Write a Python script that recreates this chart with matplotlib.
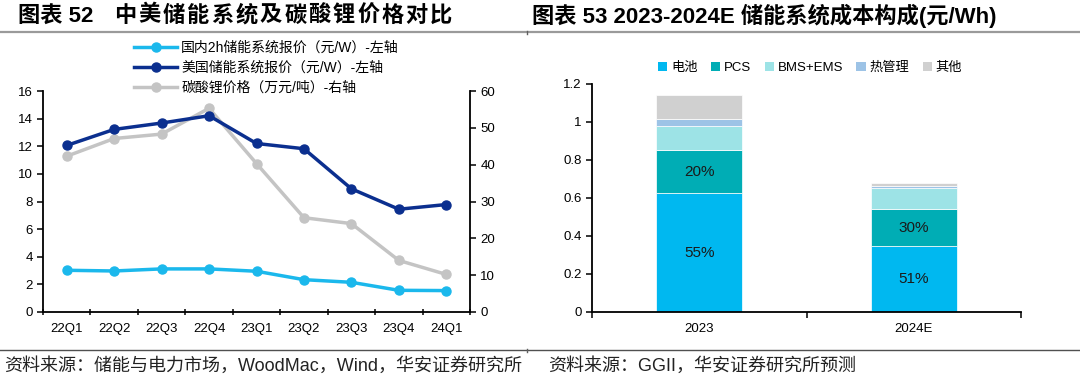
import matplotlib
matplotlib.use("Agg")
import matplotlib.pyplot as plt
from matplotlib.lines import Line2D
from matplotlib.patches import Patch
from matplotlib.ticker import FuncFormatter, FixedLocator

plt.rcParams['font.family'] = ['Liberation Sans', 'Noto Sans CJK SC']
plt.rcParams['axes.unicode_minus'] = False

# ---- data: chart 52 ----
quarters = ['22Q1', '22Q2', '22Q3', '22Q4', '23Q1', '23Q2', '23Q3', '23Q4', '24Q1']
cn_price = [3.02, 2.97, 3.12, 3.12, 2.95, 2.34, 2.15, 1.57, 1.55]
us_price = [12.06, 13.22, 13.68, 14.21, 12.2, 11.82, 8.92, 7.44, 7.78]
li2co3_price = [42.3, 47.1, 48.3, 55.3, 40.3, 25.6, 24.0, 14.0, 10.2]
line_labels = ['国内2h储能系统报价（元/W）-左轴', '美国储能系统报价（元/W）-左轴',
               '碳酸锂价格（万元/吨）-右轴']

# ---- data: chart 53 ----
years = ['2023', '2024E']
battery = [0.625, 0.345]
pcs = [0.228, 0.198]
bms_ems = [0.128, 0.109]
thermal = [0.033, 0.012]
other = [0.128, 0.014]
part_names = ['电池', 'PCS', 'BMS+EMS', '热管理', '其他']
battery_pct = ['55%', '51%']
pcs_pct = ['20%', '30%']

W, H = 1080, 382
fig = plt.figure(figsize=(W / 100, H / 100), dpi=100)


def fx(px):
    return px / W


def fy(py):
    return 1 - py / H


# titles, header/footer rules
fig.text(fx(18), fy(16), '图表 52', fontsize=16, fontweight='bold', va='center', ha='left')
for i, ch in enumerate('中美储能系统及碳酸锂价格对比'):
    fig.text(fx(114 + i * 24.3), fy(16), ch, fontsize=16, fontweight='bold', va='center', ha='left')
fig.text(fx(532), fy(16), '图表 53 2023-2024E 储能系统成本构成(元/Wh)', fontsize=16,
         fontweight='bold', va='center', ha='left')
fig.add_artist(Line2D([0, 1], [fy(32), fy(32)], transform=fig.transFigure, color='#9a9a9a', lw=1.6))
fig.add_artist(Line2D([0, 1], [fy(350), fy(350)], transform=fig.transFigure, color='#505050', lw=1.0))
# little separator marks where the two panels meet
fig.add_artist(Line2D([fx(527), fx(527)], [fy(31), fy(34)], transform=fig.transFigure, color='#606060', lw=1.0))
fig.add_artist(Line2D([fx(527), fx(527)], [fy(349), fy(352)], transform=fig.transFigure, color='#606060', lw=1.0))
fig.text(fx(4), fy(366), '资料来源：储能与电力市场，WoodMac，Wind，华安证券研究所', fontsize=13,
         va='center', ha='left', color='#222222')
fig.text(fx(548), fy(366), '资料来源：GGII，华安证券研究所预测', fontsize=13,
         va='center', ha='left', color='#222222')

tick_kw = dict(labelsize=9.5, width=1.1, length=4, direction='out', colors='black')

# ---- left chart ----
ax = fig.add_axes([fx(43), fy(312), fx(470) - fx(43), fy(91) - fy(312)])
ax2 = ax.twinx()
x = range(len(quarters))
l1, = ax.plot(x, cn_price, color='#1BB8EC', lw=2.5, marker='o', ms=6.5)
l2, = ax.plot(x, us_price, color='#0B2F8F', lw=2.5, marker='o', ms=6.5)
l3, = ax2.plot(x, li2co3_price, color='#C4C4C4', lw=2.5, marker='o', ms=6.5)
ax.set_zorder(ax2.get_zorder() + 1)
ax.patch.set_visible(False)

ax.set_xlim(-0.5, len(quarters) - 0.5)
ax.set_ylim(0, 16)
ax.set_yticks(range(0, 17, 2))
ax2.set_ylim(0, 60)
ax2.set_yticks(range(0, 61, 10))
ax.set_xticks(list(x))
ax.set_xticklabels(quarters)
ax.xaxis.set_minor_locator(FixedLocator([i - 0.5 for i in range(len(quarters) + 1)]))
ax.tick_params(axis='x', which='major', length=0, labelsize=9.5, pad=8)
ax.tick_params(axis='x', which='minor', length=4, width=1.1, direction='inout')
ax.tick_params(axis='y', **tick_kw)
ax2.tick_params(axis='y', **tick_kw)
for a in (ax, ax2):
    a.spines['top'].set_visible(False)
    for s in ('left', 'right', 'bottom'):
        a.spines[s].set_linewidth(1.3)
ax.spines['right'].set_visible(False)
ax2.spines['left'].set_visible(False)
ax2.spines['bottom'].set_visible(False)

fig.legend([l1, l2, l3], line_labels, loc='center left', bbox_to_anchor=(fx(134), fy(68)),
           frameon=False, fontsize=10, handlelength=3.1, handletextpad=0.3, labelspacing=0.42,
           borderaxespad=0, borderpad=0)

# ---- right chart ----
bx = fig.add_axes([fx(592), fy(312), fx(1021) - fx(592), fy(84) - fy(312)])
xb = range(len(years))
colors = ['#00B8F0', '#00ADB5', '#9DE3E6', '#9DC3E6', '#D0D0D0']
bottom = [0.0] * len(years)
containers = []
for vals, c in zip([battery, pcs, bms_ems, thermal, other], colors):
    cont = bx.bar(xb, vals, 0.4, bottom=bottom, color=c, edgecolor='white', linewidth=0.5)
    containers.append(cont)
    bottom = [b + v for b, v in zip(bottom, vals)]
bx.bar_label(containers[0], labels=battery_pct, label_type='center', fontsize=11, color='#1a1a1a')
bx.bar_label(containers[1], labels=pcs_pct, label_type='center', fontsize=11, color='#1a1a1a')

bx.set_xlim(-0.5, len(years) - 0.5)
bx.set_ylim(0, 1.2)
bx.set_yticks([0, 0.2, 0.4, 0.6, 0.8, 1.0, 1.2])
bx.yaxis.set_major_formatter(FuncFormatter(lambda v, p: '%g' % round(v, 1)))
bx.set_xticks(list(xb))
bx.set_xticklabels(years)
bx.xaxis.set_minor_locator(FixedLocator([-0.5, 0.5, 1.5]))
bx.tick_params(axis='x', which='major', length=0, labelsize=9.5, pad=8)
bx.tick_params(axis='x', which='minor', length=4, width=1.1, direction='out')
bx.tick_params(axis='y', **tick_kw)
bx.spines['top'].set_visible(False)
bx.spines['right'].set_visible(False)
for s in ('left', 'bottom'):
    bx.spines[s].set_linewidth(1.3)

handles = [Patch(facecolor=c) for c in colors]
fig.legend(handles, part_names, loc='center left', bbox_to_anchor=(fx(658), fy(68)), ncol=5,
           frameon=False, fontsize=9.5, handlelength=0.7, handleheight=0.7, handletextpad=0.3,
           columnspacing=1.0, borderaxespad=0, borderpad=0)

fig.savefig('out.png', dpi=100)
